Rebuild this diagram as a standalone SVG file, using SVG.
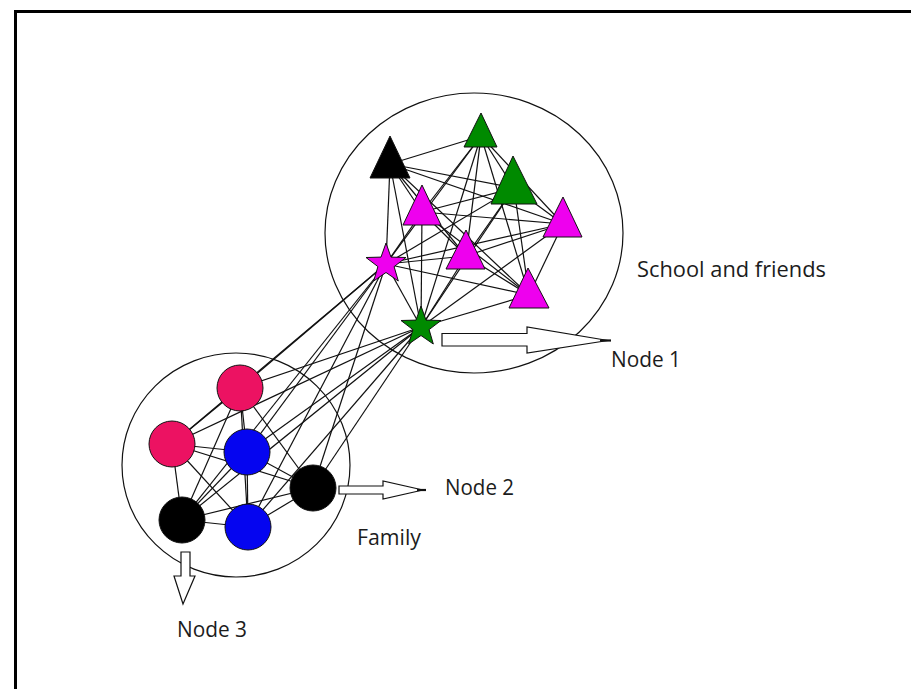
<svg xmlns="http://www.w3.org/2000/svg" xmlns:xlink="http://www.w3.org/1999/xlink" width="911" height="689" viewBox="0 0 911 689">
<defs>
<style>
.edge{stroke:#111;stroke-width:1.2;fill:none}
.group{fill:none;stroke:#111;stroke-width:1.2}
.tri{stroke:#111;stroke-width:1}
.dot{stroke:#111;stroke-width:1}
.mag{fill:#ee00ee}
.grn{fill:#008a00}
.blk{fill:#000}
.pink{fill:#ec1262}
.blue{fill:#0505f0}
.arrow{fill:#fff;stroke:#111;stroke-width:1.2}
.tip{stroke:#111;stroke-width:2.2}
.lbl{font-family:"Open Sans","Liberation Sans",sans-serif;font-size:22px;fill:#1c1c1c}
</style>
<polygon id="star" points="0,-21 5,-6.9 20,-6.5 8.1,2.6 12.3,17 0,8.5 -12.3,17 -8.1,2.6 -20,-6.5 -5,-6.9"/>
</defs>
<rect x="0" y="0" width="911" height="689" fill="#fff"/>
<path d="M15.5,689 V11.5 H911" fill="none" stroke="#000" stroke-width="3"/>

<g id="clusters">
<ellipse id="school-and-friends" class="group" cx="474" cy="233" rx="149" ry="140"/>
<ellipse id="family" class="group" cx="236" cy="465" rx="114" ry="112"/>
</g>

<g id="connectors">
<line class="edge" x1="390" y1="164" x2="481" y2="136"/>
<line class="edge" x1="390" y1="164" x2="514" y2="188"/>
<line class="edge" x1="390" y1="164" x2="422" y2="212"/>
<line class="edge" x1="390" y1="164" x2="563" y2="224"/>
<line class="edge" x1="390" y1="164" x2="466" y2="256"/>
<line class="edge" x1="390" y1="164" x2="529" y2="295"/>
<line class="edge" x1="390" y1="164" x2="386" y2="264"/>
<line class="edge" x1="390" y1="164" x2="421" y2="327"/>
<line class="edge" x1="481" y1="136" x2="514" y2="188"/>
<line class="edge" x1="481" y1="136" x2="422" y2="212"/>
<line class="edge" x1="481" y1="136" x2="563" y2="224"/>
<line class="edge" x1="481" y1="136" x2="466" y2="256"/>
<line class="edge" x1="481" y1="136" x2="529" y2="295"/>
<line class="edge" x1="481" y1="136" x2="386" y2="264"/>
<line class="edge" x1="481" y1="136" x2="421" y2="327"/>
<line class="edge" x1="514" y1="188" x2="422" y2="212"/>
<line class="edge" x1="514" y1="188" x2="563" y2="224"/>
<line class="edge" x1="514" y1="188" x2="466" y2="256"/>
<line class="edge" x1="514" y1="188" x2="529" y2="295"/>
<line class="edge" x1="514" y1="188" x2="386" y2="264"/>
<line class="edge" x1="514" y1="188" x2="421" y2="327"/>
<line class="edge" x1="422" y1="212" x2="563" y2="224"/>
<line class="edge" x1="422" y1="212" x2="466" y2="256"/>
<line class="edge" x1="422" y1="212" x2="529" y2="295"/>
<line class="edge" x1="422" y1="212" x2="386" y2="264"/>
<line class="edge" x1="422" y1="212" x2="421" y2="327"/>
<line class="edge" x1="563" y1="224" x2="466" y2="256"/>
<line class="edge" x1="563" y1="224" x2="529" y2="295"/>
<line class="edge" x1="563" y1="224" x2="386" y2="264"/>
<line class="edge" x1="563" y1="224" x2="421" y2="327"/>
<line class="edge" x1="466" y1="256" x2="529" y2="295"/>
<line class="edge" x1="466" y1="256" x2="386" y2="264"/>
<line class="edge" x1="466" y1="256" x2="421" y2="327"/>
<line class="edge" x1="529" y1="295" x2="386" y2="264"/>
<line class="edge" x1="529" y1="295" x2="421" y2="327"/>
<line class="edge" x1="386" y1="264" x2="421" y2="327"/>
<line class="edge" x1="386" y1="264" x2="240" y2="388"/>
<line class="edge" x1="386" y1="264" x2="172" y2="444"/>
<line class="edge" x1="386" y1="264" x2="247" y2="452"/>
<line class="edge" x1="386" y1="264" x2="313" y2="488"/>
<line class="edge" x1="386" y1="264" x2="182" y2="520"/>
<line class="edge" x1="386" y1="264" x2="248" y2="527"/>
<line class="edge" x1="421" y1="327" x2="240" y2="388"/>
<line class="edge" x1="421" y1="327" x2="172" y2="444"/>
<line class="edge" x1="421" y1="327" x2="247" y2="452"/>
<line class="edge" x1="421" y1="327" x2="313" y2="488"/>
<line class="edge" x1="421" y1="327" x2="182" y2="520"/>
<line class="edge" x1="421" y1="327" x2="248" y2="527"/>
<line class="edge" x1="240" y1="388" x2="172" y2="444"/>
<line class="edge" x1="240" y1="388" x2="247" y2="452"/>
<line class="edge" x1="240" y1="388" x2="313" y2="488"/>
<line class="edge" x1="240" y1="388" x2="182" y2="520"/>
<line class="edge" x1="240" y1="388" x2="248" y2="527"/>
<line class="edge" x1="172" y1="444" x2="247" y2="452"/>
<line class="edge" x1="172" y1="444" x2="313" y2="488"/>
<line class="edge" x1="172" y1="444" x2="182" y2="520"/>
<line class="edge" x1="172" y1="444" x2="248" y2="527"/>
<line class="edge" x1="247" y1="452" x2="313" y2="488"/>
<line class="edge" x1="247" y1="452" x2="182" y2="520"/>
<line class="edge" x1="247" y1="452" x2="248" y2="527"/>
<line class="edge" x1="313" y1="488" x2="182" y2="520"/>
<line class="edge" x1="313" y1="488" x2="248" y2="527"/>
<line class="edge" x1="182" y1="520" x2="248" y2="527"/>
</g>

<g id="node-black-triangle"><polygon class="tri blk" points="390,136 410,178 370,178"/></g>
<g id="node-green-top"><polygon class="tri grn" points="481,113 497,147 464,147"/></g>
<g id="node-green-big"><polygon class="tri grn" points="513,156 537,204 491,204"/></g>
<g id="node-magenta-left"><polygon class="tri mag" points="422,185 441,225 403,225"/></g>
<g id="node-magenta-right"><polygon class="tri mag" points="563,197 582,237 543,237"/></g>
<g id="node-magenta-center"><polygon class="tri mag" points="466,230 485,269 446,269"/></g>
<g id="node-magenta-lower"><polygon class="tri mag" points="528,268 549,308 509,308"/></g>
<g id="node-magenta-star"><use xlink:href="#star" class="tri mag" transform="translate(386,264)"/></g>
<g id="node-green-star"><use xlink:href="#star" class="tri grn" transform="translate(421,327)"/></g>

<g id="node-pink-top"><circle class="dot pink" cx="240" cy="388" r="23"/></g>
<g id="node-pink-left"><circle class="dot pink" cx="172" cy="444" r="23"/></g>
<g id="node-blue-top"><circle class="dot blue" cx="247" cy="452" r="23"/></g>
<g id="node-black-right"><circle class="dot blk" cx="313" cy="488" r="23"/></g>
<g id="node-black-left"><circle class="dot blk" cx="182" cy="520" r="23"/></g>
<g id="node-blue-bottom"><circle class="dot blue" cx="248" cy="527" r="23"/></g>

<g id="arrow-node1">
<polygon class="arrow" points="442,333.5 527,333.5 527,327 608,340.5 527,353 527,346 442,346"/>
<line class="tip" x1="600" y1="340.5" x2="611" y2="340.5"/>
</g>
<g id="arrow-node2">
<polygon class="arrow" points="339,486 383,486 383,481 423,490 383,499 383,494 339,494"/>
<line class="tip" x1="417" y1="490" x2="426" y2="490"/>
</g>
<g id="arrow-node3">
<polygon class="arrow" points="181,552 190,552 190,576 195,576 183,604 174,576 181,576"/>
</g>

<g id="labels">
<text class="lbl" x="637" y="276.5" textLength="189" lengthAdjust="spacingAndGlyphs">School and friends</text>
<text class="lbl" x="611" y="366.5" textLength="70" lengthAdjust="spacingAndGlyphs">Node 1</text>
<text class="lbl" x="445" y="495" textLength="69" lengthAdjust="spacingAndGlyphs">Node 2</text>
<text class="lbl" x="357" y="545" textLength="64" lengthAdjust="spacingAndGlyphs">Family</text>
<text class="lbl" x="177" y="637" textLength="70" lengthAdjust="spacingAndGlyphs">Node 3</text>
</g>
</svg>
